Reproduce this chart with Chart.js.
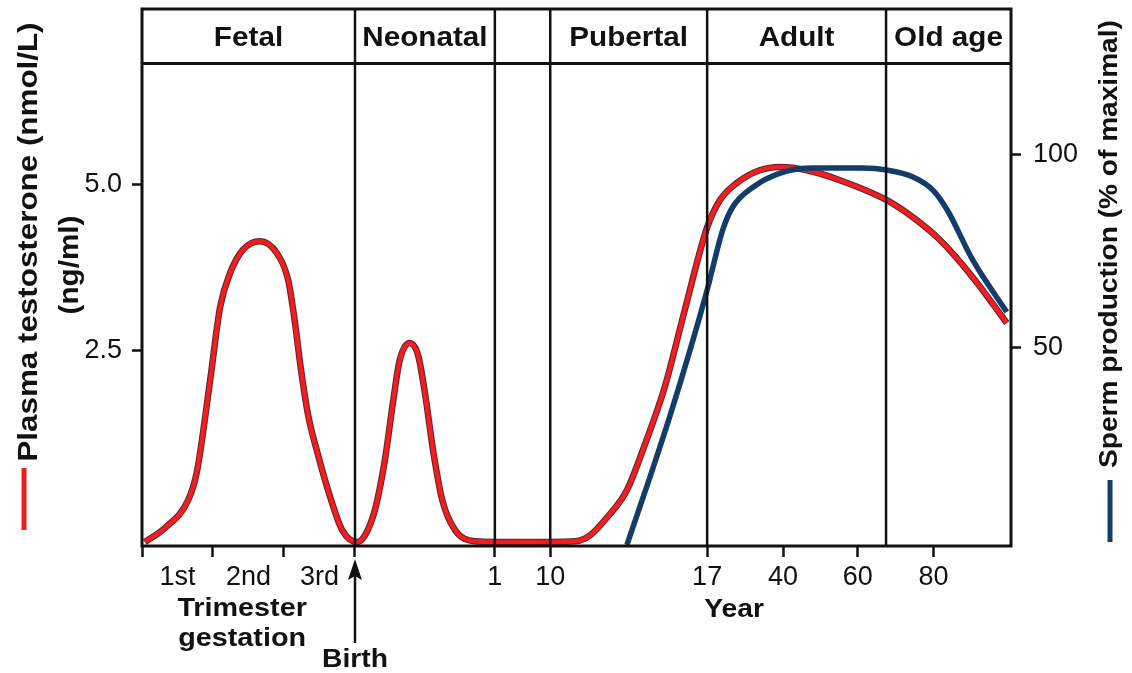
<!DOCTYPE html>
<html>
<head>
<meta charset="utf-8">
<script src="https://cdn.jsdelivr.net/npm/chart.js@4.4.1/dist/chart.umd.min.js"></script>
<style>
  html, body { margin: 0; padding: 0; background: #fff; }
  #wrap { width: 1132px; height: 673px; position: relative; }
</style>
</head>
<body>
<div id="wrap"><canvas id="lifeChart"></canvas></div>
<script>
// x is a compressed life-span axis: 0..3 = trimesters, 3 = birth, then years
const tickPos    = [0, 0.5, 1, 1.5, 2, 2.5, 3, 4.97, 5.75, 7.96, 9.03, 10.08, 11.15];
const tickLabels = ['', '1st', '', '2nd', '', '3rd', '', '1', '10', '17', '40', '60', '80'];
const tickMarks  = [1, 0, 1, 0, 1, 0, 1, 1, 1, 1, 1, 1, 1];

const stageEdges = [0, 3, 4.97, 5.75, 7.96, 10.48, 12.24];
const stageNames = ['Fetal', 'Neonatal', '', 'Pubertal', 'Adult', 'Old age'];
const headerLevel = 6.82;   // bottom of the stage band, in nmol/L units

const leftTicks  = [2.5, 5.0];
const rightTicks = [50, 100];

// plasma testosterone (nmol/L)
const testoX = [0.04, 0.32, 0.65, 0.77, 0.96, 1.10, 1.24, 1.42, 1.66, 1.90, 2.06, 2.15, 2.24, 2.34, 2.48, 2.65, 2.82, 3.03,
                3.14, 3.28, 3.42, 3.54, 3.63, 3.77, 3.89, 3.99, 4.10, 4.23, 4.41, 4.69, 4.97, 5.75,
                6.10, 6.31, 6.55, 6.83, 7.08, 7.37, 7.62, 7.96, 8.14, 8.38, 8.70, 8.99, 9.37, 9.83,
                10.49, 10.86, 11.24, 11.70, 12.18];
const testoY = [-0.39, -0.18, 0.24, 0.65, 2.05, 3.15, 3.66, 4.01, 4.14, 3.96, 3.55, 2.95, 2.20, 1.52, 0.92, 0.29, -0.21, -0.39,
                -0.29, 0.09, 0.84, 1.75, 2.35, 2.61, 2.42, 1.82, 0.99, 0.24, -0.21, -0.38, -0.39, -0.39,
                -0.38, -0.29, -0.02, 0.39, 1.07, 1.97, 3.00, 4.35, 4.76, 5.02, 5.21, 5.26, 5.21, 5.06,
                4.76, 4.50, 4.16, 3.60, 2.91];

// sperm production (% of maximal)
const spermX = [6.83, 7.15, 7.44, 7.72, 7.96, 8.18, 8.32, 8.61, 8.99, 9.45, 10.15, 10.49, 10.86, 11.14, 11.34, 11.70, 12.18];
const spermY = [-1.0, 16.3, 32.6, 49.5, 65.0, 80.6, 86.5, 91.7, 95.3, 96.6, 96.6, 96.1, 94.3, 90.9, 85.8, 72.8, 59.3];

const FONT = '"Liberation Sans", Arial, Helvetica, sans-serif';
const INK = '#111';

function pts(xs, ys) {
    return xs.map((x, i) => ({ x: x, y: ys[i] }));
}

function wideText(ctx, text, x, y, size, stretch, rot) {
    ctx.save();
    ctx.translate(x, y);
    if (rot) ctx.rotate(rot);
    ctx.scale(stretch, 1);
    ctx.font = 'bold ' + size + 'px ' + FONT;
    ctx.textAlign = 'center';
    ctx.textBaseline = 'alphabetic';
    ctx.fillStyle = INK;
    ctx.fillText(text, 0, 0);
    ctx.restore();
}

function noPad(s) {
    s.paddingTop = 0;
    s.paddingBottom = 0;
    s.paddingLeft = 0;
    s.paddingRight = 0;
}

const decorations = {
    id: 'decorations',
    afterDatasetsDraw(chart) {
        const ctx = chart.ctx;
        const a = chart.chartArea;
        const xs = chart.scales.x;
        const ys = chart.scales.y;
        const hy = ys.getPixelForValue(headerLevel);

        ctx.save();
        ctx.strokeStyle = INK;
        ctx.lineWidth = 3;
        ctx.strokeRect(a.left, a.top, a.right - a.left, a.bottom - a.top);

        ctx.beginPath();
        ctx.moveTo(a.left, hy);
        ctx.lineTo(a.right, hy);
        ctx.stroke();

        ctx.lineWidth = 2.5;
        stageEdges.slice(1, -1).forEach(v => {
            const px = xs.getPixelForValue(v);
            ctx.beginPath();
            ctx.moveTo(px, a.top);
            ctx.lineTo(px, a.bottom);
            ctx.stroke();
        });

        stageNames.forEach((name, i) => {
            if (!name) return;
            const cx = (xs.getPixelForValue(stageEdges[i]) + xs.getPixelForValue(stageEdges[i + 1])) / 2;
            wideText(ctx, name, cx, (a.top + hy) / 2 + 10, 28, 1.06);
        });

        // bottom axis captions
        const midTri = xs.getPixelForValue(1.41);
        wideText(ctx, 'Trimester', midTri, 616, 25, 1.15);
        wideText(ctx, 'gestation', midTri, 646, 25, 1.15);
        wideText(ctx, 'Year', xs.getPixelForValue(8.34), 617, 25, 1.13);

        const bx = xs.getPixelForValue(3);
        wideText(ctx, 'Birth', bx, 667, 25, 1.13);
        ctx.lineWidth = 2.5;
        ctx.beginPath();
        ctx.moveTo(bx, 643);
        ctx.lineTo(bx, 574);
        ctx.stroke();
        ctx.fillStyle = INK;
        ctx.beginPath();
        ctx.moveTo(bx, 559);
        ctx.lineTo(bx - 7, 580);
        ctx.lineTo(bx, 576);
        ctx.lineTo(bx + 7, 580);
        ctx.closePath();
        ctx.fill();

        // axis titles with their line keys
        wideText(ctx, 'Plasma testosterone (nmol/L)', 37, 242, 28, 1.12, -Math.PI / 2);
        wideText(ctx, '(ng/ml)', 78, 265, 27, 1.1, -Math.PI / 2);
        wideText(ctx, 'Sperm production (% of maximal)', 1117, 244, 26, 1.08, -Math.PI / 2);

        ctx.lineWidth = 5;
        ctx.strokeStyle = '#f01c22';
        ctx.beginPath();
        ctx.moveTo(24, 468);
        ctx.lineTo(24, 530);
        ctx.stroke();
        ctx.strokeStyle = '#123d6a';
        ctx.beginPath();
        ctx.moveTo(1110, 480);
        ctx.lineTo(1110, 542);
        ctx.stroke();
        ctx.restore();
    }
};

new Chart(document.getElementById('lifeChart'), {
    type: 'line',
    data: {
        datasets: [
            {
                data: pts(spermX, spermY),
                yAxisID: 'y1',
                borderColor: '#123d6a',
                borderWidth: 5.5,
                order: 0
            },
            {
                data: pts(testoX, testoY),
                yAxisID: 'y',
                borderColor: '#f21d1d',
                borderWidth: 4.5,
                order: 1
            },
            {
                data: pts(testoX, testoY),
                yAxisID: 'y',
                borderColor: '#5c2233',
                borderWidth: 6.5,
                order: 2
            }
        ]
    },
    options: {
        responsive: true,
        maintainAspectRatio: false,
        animation: false,
        layout: { padding: { top: 9, left: 0, right: 0, bottom: 0 } },
        elements: {
            point: { radius: 0 },
            line: { cubicInterpolationMode: 'monotone', fill: false }
        },
        plugins: {
            legend: { display: false },
            tooltip: { enabled: false }
        },
        scales: {
            x: {
                type: 'linear',
                min: 0,
                max: 12.24,
                afterBuildTicks: s => { s.ticks = tickPos.map(v => ({ value: v })); },
                afterFit: s => { s.height = 127; noPad(s); },
                border: { display: false },
                grid: {
                    drawOnChartArea: false,
                    tickLength: 11,
                    tickWidth: 2.5,
                    tickColor: c => tickMarks[c.index] ? INK : 'rgba(0,0,0,0)'
                },
                ticks: {
                    autoSkip: false,
                    maxRotation: 0,
                    padding: 4,
                    color: INK,
                    font: { family: FONT, size: 27 },
                    callback: (v, i) => tickLabels[i]
                }
            },
            y: {
                position: 'left',
                min: -0.45,
                max: 7.64,
                afterBuildTicks: s => { s.ticks = leftTicks.map(v => ({ value: v })); },
                afterFit: s => { s.width = 142; noPad(s); },
                border: { display: false },
                grid: { drawOnChartArea: false, tickLength: 10, tickWidth: 2.5, tickColor: INK },
                ticks: {
                    padding: 10,
                    color: INK,
                    font: { family: FONT, size: 27 },
                    callback: v => v.toFixed(1)
                }
            },
            y1: {
                position: 'right',
                min: -1.3,
                max: 137.8,
                afterBuildTicks: s => { s.ticks = rightTicks.map(v => ({ value: v })); },
                afterFit: s => { s.width = 121; noPad(s); },
                border: { display: false },
                grid: { drawOnChartArea: false, tickLength: 10, tickWidth: 2.5, tickColor: INK },
                ticks: {
                    padding: 12,
                    color: INK,
                    font: { family: FONT, size: 27 },
                    callback: v => String(v)
                }
            }
        }
    },
    plugins: [decorations]
});
</script>
</body>
</html>
